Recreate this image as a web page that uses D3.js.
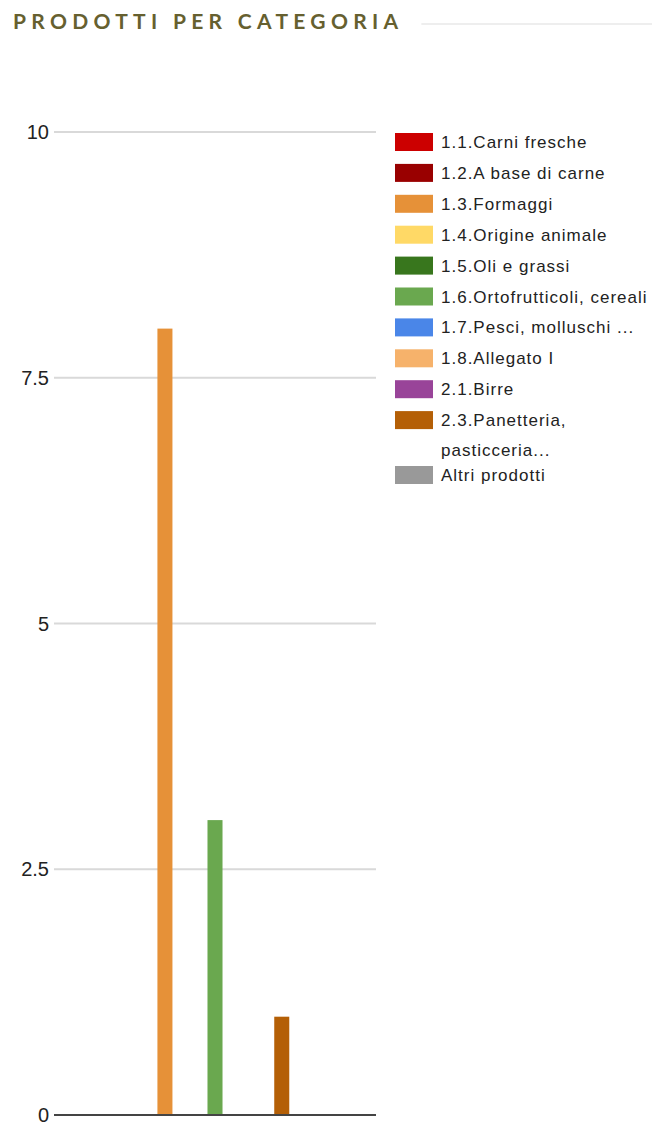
<!DOCTYPE html>
<html>
<head>
<meta charset="utf-8">
<script src="https://cdn.jsdelivr.net/npm/d3@7"></script>
<style>
  body { margin: 0; background: #fff; }
  svg { display: block; }
</style>
</head>
<body>
<svg id="chart" width="658" height="1122"></svg>
<script>
const title = "PRODOTTI PER CATEGORIA";
const categories = [""];
const seriesNames = [
  "1.1.Carni fresche",
  "1.2.A base di carne",
  "1.3.Formaggi",
  "1.4.Origine animale",
  "1.5.Oli e grassi",
  "1.6.Ortofrutticoli, cereali",
  "1.7.Pesci, molluschi ...",
  "1.8.Allegato I",
  "2.1.Birre",
  "2.3.Panetteria, pasticceria...",
  "Altri prodotti"
];
const seriesColors = [
  "#cc0000", "#990000", "#e69138", "#ffd966", "#38761d", "#6aa84f",
  "#4a86e8", "#f6b26b", "#994499", "#b45f06", "#999999"
];
const seriesValues = [0, 0, 8, 0, 0, 3, 0, 0, 0, 1, 0];
const yTicks = [0, 2.5, 5, 7.5, 10];

const svg = d3.select("#chart");

// === Title ===
const t = svg.append("text")
  .attr("x", 13)
  .attr("y", 29)
  .attr("font-family", "Lato")
  .attr("font-weight", "bold")
  .attr("font-size", "21px")
  .attr("letter-spacing", "5.3px")
  .attr("fill", "#66602f")
  .text(title);
const tw = t.node().getComputedTextLength();
svg.append("line")
  .attr("x1", 13 + tw + 18).attr("x2", 652)
  .attr("y1", 24).attr("y2", 24)
  .attr("stroke", "#eeeeee")
  .attr("stroke-width", 2);

// === Columns ===
const plot = { left: 54, right: 376, top: 132, bottom: 1115 };

const y = d3.scaleLinear().domain([0, 10]).range([plot.bottom, plot.top]);
const x0 = d3.scaleBand().domain(categories)
  .range([plot.left, plot.right]).padding(0.278);
const x1 = d3.scaleBand().domain(seriesNames)
  .range([0, x0.bandwidth()]).paddingInner(0.1);

const grid = svg.append("g");
grid.selectAll("line")
  .data(yTicks.filter((d) => d > 0))
  .enter()
  .append("line")
  .attr("x1", plot.left).attr("x2", plot.right)
  .attr("y1", (d) => y(d)).attr("y2", (d) => y(d))
  .attr("stroke", "#d9d9d9")
  .attr("stroke-width", 2);

svg.append("g")
  .selectAll("text")
  .data(yTicks)
  .enter()
  .append("text")
  .attr("x", 49)
  .attr("y", (d) => y(d) + 7)
  .attr("text-anchor", "end")
  .attr("font-family", "Arial, 'Liberation Sans'")
  .attr("font-size", "20px")
  .attr("fill", "#222")
  .text((d) => d);

const bars = seriesNames.map((name, i) => ({
  cat: categories[0], name, value: seriesValues[i], color: seriesColors[i]
}));

svg.append("g")
  .selectAll("rect")
  .data(bars.filter((d) => d.value > 0))
  .enter()
  .append("rect")
  .attr("x", (d) => x0(d.cat) + x1(d.name))
  .attr("y", (d) => y(d.value))
  .attr("width", x1.bandwidth())
  .attr("height", (d) => y(0) - y(d.value))
  .attr("fill", (d) => d.color);

// baseline
svg.append("line")
  .attr("x1", plot.left).attr("x2", plot.right)
  .attr("y1", y(0)).attr("y2", y(0))
  .attr("stroke", "#444")
  .attr("stroke-width", 2);

// === Legend ===
const legend = svg.append("g").attr("transform", "translate(395,133)");
const lineH = 30;
const maxW = 215;
let cy = 0;
seriesNames.forEach((name, i) => {
  const row = legend.append("g").attr("transform", `translate(0,${cy})`);
  row.append("rect")
    .attr("width", 38).attr("height", 18)
    .attr("fill", seriesColors[i]);
  const txt = row.append("text")
    .attr("y", 15)
    .attr("font-family", "Arial, 'Liberation Sans'")
    .attr("font-size", "17px")
    .attr("letter-spacing", "1px")
    .attr("fill", "#222");
  // simple word wrap
  const words = name.split(" ");
  let line = [];
  let lines = 0;
  let tspan = txt.append("tspan").attr("x", 46);
  words.forEach((w) => {
    line.push(w);
    tspan.text(line.join(" "));
    if (tspan.node().getComputedTextLength() > maxW && line.length > 1) {
      line.pop();
      tspan.text(line.join(" "));
      line = [w];
      lines++;
      tspan = txt.append("tspan").attr("x", 46).attr("dy", lineH).text(w);
    }
  });
  cy += 30.9 + lines * 24;
});
</script>
</body>
</html>
